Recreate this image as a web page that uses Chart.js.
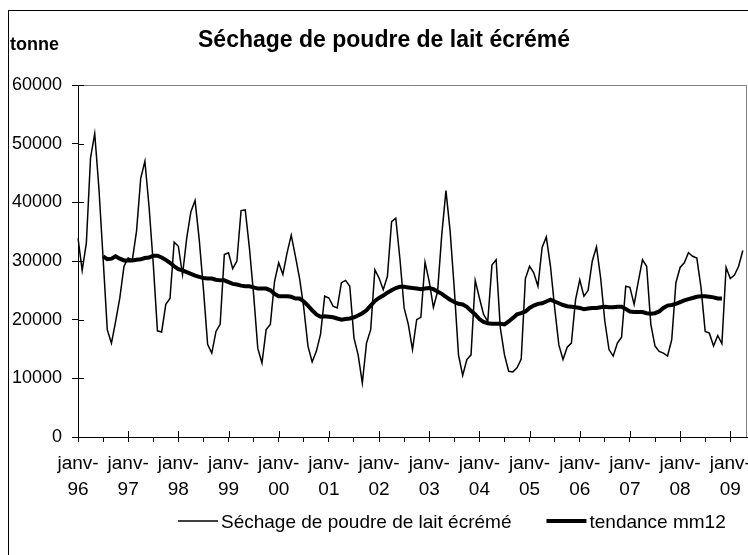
<!DOCTYPE html>
<html>
<head>
<meta charset="utf-8">
<script src="https://cdn.jsdelivr.net/npm/chart.js@4/dist/chart.umd.min.js"></script>
<style>
  html, body { margin: 0; padding: 0; background: #fff; overflow: hidden; }
  #wrap { position: absolute; left: 0; top: 0; width: 790px; height: 580px; }
</style>
</head>
<body>
<div id="wrap"><canvas id="c" width="790" height="580"></canvas></div>
<script>
// Month names and year suffixes used to build the monthly categories (janv-96 ... mai-09)
const monthNames = ['janv', 'févr', 'mars', 'avr', 'mai', 'juin', 'juil', 'août', 'sept', 'oct', 'nov', 'déc'];
const yearLabels = ['96', '97', '98', '99', '00', '01', '02', '03', '04', '05', '06', '07', '08', '09'];
const monthsIn2009 = 5;

// Monthly skimmed-milk powder drying, tonnes (janv-96 .. avr-09)
const sechage = [
  33900, 28400, 33100, 47600, 51700, 42400, 30500, 18300, 16000, 19700, 23700, 29100,
  30500, 30200, 35100, 44100, 47000, 39200, 29500, 18100, 17900, 22600, 23600, 33200,
  32500, 27700, 33900, 38400, 40300, 33600, 25200, 15800, 14300, 18000, 19200, 31100,
  31400, 28700, 30000, 38600, 38700, 32200, 24300, 15100, 12600, 18300, 19200, 26500,
  29700, 27700, 31400, 34400, 30800, 27000, 22000, 15500, 12800, 14600, 17500, 24000,
  23700, 22300, 22000, 26300, 26700, 25700, 16900, 14000,  9200, 16000, 18300, 28500,
  27100, 25100, 27400, 36700, 37300, 30300, 22000, 19200, 14900, 20000, 20400, 29800,
  26500, 22100, 24800, 34500, 42000, 35100, 25200, 14000, 10500, 13200, 14000, 26700,
  23700, 20900, 19700, 29300, 30200, 18600, 14000, 11200, 11100, 11800, 13300, 27000,
  29100, 28000, 25700, 32300, 34100, 29100, 22000, 15700, 13200, 15300, 16000, 23400,
  26800, 24000, 25000, 30000, 32400, 27100, 19700, 14900, 13800, 16000, 17000, 25700,
  25500, 22600, 26500, 30200, 29100, 19200, 15500, 14600, 14300, 13800, 16600, 26300,
  28900, 29700, 31400, 30800, 30500, 25500, 18000, 17700, 15500, 17300, 15900, 28900,
  27000, 27600, 29100, 31800
];

// 12-month centred moving average (juil-96 .. nov-08)
const tendance = [
  null, null, null, null, null, null, 30800, 30300, 30400, 30800, 30400, 30100,
  30100, 30100, 30200, 30300, 30500, 30600, 30900, 30900, 30600, 30200, 29700, 29100,
  28600, 28400, 28100, 27800, 27500, 27300, 27100, 27000, 27000, 26800, 26700, 26700,
  26400, 26100, 26000, 25800, 25700, 25700, 25500, 25300, 25300, 25300, 25000, 24400,
  24000, 24000, 24000, 23900, 23600, 23600, 23100, 22400, 21600, 20900, 20500, 20600,
  20500, 20400, 20200, 20000, 20100, 20200, 20400, 20700, 21100, 21600, 22400, 23200,
  23700, 24100, 24600, 25000, 25400, 25600, 25600, 25500, 25400, 25300, 25200, 25300,
  25400, 25200, 24800, 24400, 23900, 23400, 23000, 22700, 22600, 22200, 21500, 20900,
  20100, 19600, 19400, 19300, 19300, 19300, 19200, 19700, 20300, 20900, 21100, 21400,
  22000, 22400, 22700, 22800, 23100, 23400, 23100, 22800, 22500, 22300, 22200, 22100,
  22000, 21800, 21900, 22000, 22000, 22100, 22200, 22100, 22100, 22200, 22200, 21800,
  21400, 21300, 21300, 21300, 21100, 21000, 21100, 21400, 22000, 22400, 22500, 22700,
  23000, 23300, 23500, 23700, 23900, 24000, 24000, 23900, 23800, 23600, 23600
];

const categories = [];
yearLabels.forEach((yy, y) => {
  const n = (y === yearLabels.length - 1) ? monthsIn2009 : 12;
  for (let m = 0; m < n; m++) categories.push(monthNames[m] + '-' + yy);
});

const FONT = '"Liberation Sans", Arial, Helvetica, sans-serif';

// Title, unit label, frame and legend drawn around the plot
const decor = {
  id: 'decor',
  afterDraw(chart) {
    const ctx = chart.ctx;
    const area = chart.chartArea;
    const xs = chart.scales.x, ys = chart.scales.y;
    ctx.save();

    // outer chart frame
    ctx.strokeStyle = '#000';
    ctx.lineWidth = 1;
    ctx.strokeRect(8.5, 10.5, 1000, 1000);

    // plot area frame (top and right)
    ctx.strokeStyle = '#808080';
    ctx.beginPath();
    ctx.moveTo(area.left, Math.round(area.top) + 0.5);
    ctx.lineTo(Math.round(area.right) - 0.5, Math.round(area.top) + 0.5);
    ctx.lineTo(Math.round(area.right) - 0.5, area.bottom);
    ctx.stroke();

    // inner halves of the major tick marks
    ctx.strokeStyle = '#000';
    ctx.beginPath();
    ys.ticks.forEach(t => {
      const py = Math.round(ys.getPixelForValue(t.value)) + 0.5;
      ctx.moveTo(area.left, py); ctx.lineTo(area.left + 6, py);
    });
    for (let i = 0; i < categories.length; i += 12) {
      const px = Math.round(xs.getPixelForValue(i)) + 0.5;
      ctx.moveTo(px, area.bottom); ctx.lineTo(px, area.bottom - 6);
    }
    ctx.stroke();

    // title and unit
    ctx.fillStyle = '#000';
    ctx.textBaseline = 'alphabetic';
    ctx.font = 'bold 23px ' + FONT;
    ctx.textAlign = 'center';
    ctx.fillText('Séchage de poudre de lait écrémé', 384, 47);
    ctx.font = 'bold 18px ' + FONT;
    ctx.textAlign = 'left';
    ctx.fillText('tonne', 10, 50);

    // legend
    ctx.font = '19px ' + FONT;
    let x = 178;
    const ly = 521, ty = 528;
    chart.data.datasets.forEach(ds => {
      ctx.strokeStyle = ds.borderColor;
      ctx.lineWidth = ds.borderWidth;
      ctx.beginPath();
      ctx.moveTo(x, ly); ctx.lineTo(x + 40, ly);
      ctx.stroke();
      ctx.fillText(ds.label, x + 43, ty);
      x += 43 + ctx.measureText(ds.label).width + 35;
    });
    ctx.restore();
  }
};

new Chart(document.getElementById('c'), {
  type: 'line',
  data: {
    labels: categories,
    datasets: [
      {
        label: 'Séchage de poudre de lait écrémé',
        data: sechage,
        borderColor: '#000',
        borderWidth: 1.5,
        pointRadius: 0,
        tension: 0,
        fill: false
      },
      {
        label: 'tendance mm12',
        data: tendance,
        borderColor: '#000',
        borderWidth: 4,
        pointRadius: 0,
        tension: 0,
        fill: false
      }
    ]
  },
  options: {
    responsive: false,
    animation: false,
    devicePixelRatio: 1,
    layout: { padding: { left: 0, top: 85, right: 43, bottom: 83 } },
    plugins: { legend: { display: false }, title: { display: false }, tooltip: { enabled: false } },
    events: [],
    scales: {
      x: {
        type: 'category',
        offset: false,
        afterFit: s => { s.height = 60; },
        grid: {
          display: true,
          drawOnChartArea: false,
          drawTicks: true,
          tickLength: 5,
          tickWidth: 1,
          tickColor: c => (c.index % 6 === 0 ? '#000' : 'rgba(0,0,0,0)'),
          offset: false
        },
        border: { display: true, color: '#000', width: 1 },
        ticks: {
          autoSkip: false,
          maxRotation: 0,
          minRotation: 0,
          padding: 9,
          color: '#000',
          font: { family: FONT, size: 19, lineHeight: 1.37 },
          callback: (v, i) => (i % 12 === 0 ? [monthNames[0] + '-', yearLabels[i / 12]] : '')
        }
      },
      y: {
        min: 0,
        max: 60000,
        afterFit: s => { s.width = 78; },
        grid: {
          display: true,
          drawOnChartArea: false,
          drawTicks: true,
          tickLength: 6,
          tickColor: '#000'
        },
        border: { display: true, color: '#000', width: 1 },
        ticks: {
          stepSize: 10000,
          padding: 10,
          color: '#000',
          font: { family: FONT, size: 18 },
          callback: v => String(v)
        }
      }
    }
  },
  plugins: [decor]
});
</script>
</body>
</html>
